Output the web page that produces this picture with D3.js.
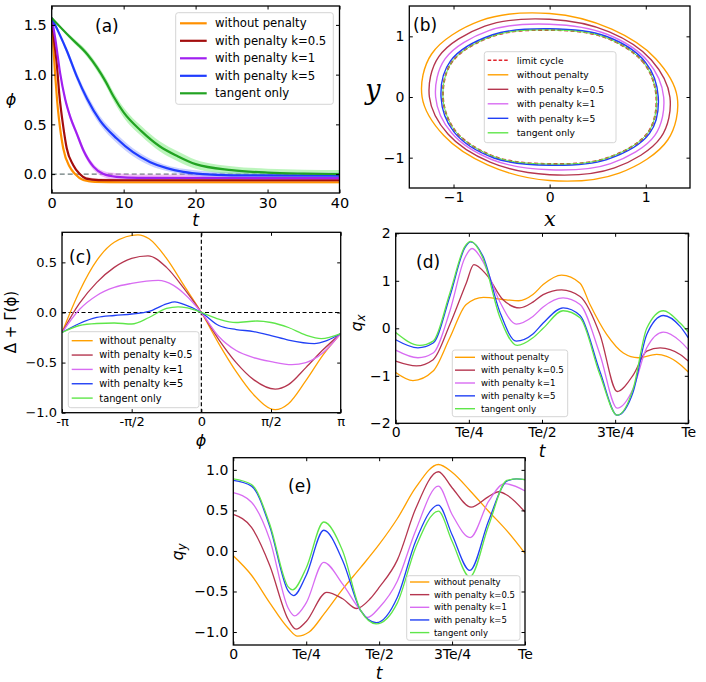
<!DOCTYPE html>
<html><head><meta charset="utf-8">
<script src="https://cdn.jsdelivr.net/npm/d3@7"></script>
<style>body{margin:0;background:#fff} text{font-family:"DejaVu Sans",sans-serif}</style>
</head><body><svg id="c" width="706" height="682"></svg>
<script>
// ---------------- DATA ----------------
const seriesLabels = ["without penalty","with penalty k=0.5","with penalty k=1","with penalty k=5","tangent only"];
const limitLabel = "limit cycle";

// (a) phase phi(t): [t, phi, errorHalfWidth]
const aOrange = [[0,1.57,0],[0.25,1.25,0.01],[0.5,0.98,0.01],[0.75,0.74,0.01],[1,0.56,0.01],[1.6,0.26,0.01],[2.5,0.074,0.01],[3.25,0,0.01],[4.4,-0.06,0.012],[6,-0.078,0.012],[10,-0.082,0.012],[40,-0.082,0.012]];
const aRed    = [[0,1.57,0],[0.35,1.33,0.01],[0.69,1.12,0.01],[1.06,0.80,0.01],[1.6,0.48,0.012],[2.09,0.26,0.012],[3.0,0.09,0.012],[3.9,0,0.012],[4.8,-0.045,0.015],[6.5,-0.06,0.015],[10,-0.062,0.015],[40,-0.062,0.015]];
const aPurple = [[0,1.57,0],[0.5,1.36,0.02],[1.16,1.02,0.03],[1.85,0.76,0.03],[2.6,0.57,0.03],[3.47,0.41,0.03],[4.4,0.24,0.03],[5.8,0.075,0.03],[7.2,0,0.03],[9,-0.027,0.035],[12,-0.038,0.035],[40,-0.04,0.035]];
const aBlue   = [[0,1.57,0],[1,1.42,0.02],[2.1,1.24,0.03],[3.5,0.98,0.04],[4.9,0.76,0.045],[6.7,0.54,0.045],[9,0.36,0.045],[11.3,0.22,0.04],[13.7,0.12,0.035],[16,0.06,0.03],[18.3,0.023,0.03],[21,0.0,0.03],[25,-0.012,0.03],[40,-0.015,0.03]];
const aGreen  = [[0,1.57,0],[2.5,1.38,0.02],[5,1.2,0.03],[7.5,0.93,0.04],[8.6,0.78,0.045],[10,0.62,0.05],[12.5,0.43,0.05],[15,0.28,0.05],[17.5,0.18,0.05],[20,0.10,0.045],[25,0.04,0.04],[30,0.015,0.04],[35,0.005,0.04],[40,0.0,0.04]];
const aXTicks = [0,10,20,30,40];
const aYTicks = [0,0.5,1,1.5];

// (b) closed trajectories in (x, y), read every 30 degrees around the origin
const bLimit  = [[1.11,0],[0.979,0.565],[0.57,0.987],[0,1.105],[-0.583,1.009],[-1.013,0.585],[-1.11,0],[-0.979,-0.565],[-0.57,-0.987],[0,-1.105],[0.585,-1.013],[1.022,-0.59]];
const bOrange = [[1.327,0],[1.101,0.636],[0.646,1.119],[0,1.377],[-0.724,1.254],[-1.228,0.709],[-1.327,0],[-1.101,-0.636],[-0.646,-1.119],[0,-1.377],[0.724,-1.254],[1.228,-0.709]];
const bRed    = [[1.251,0],[1.058,0.611],[0.62,1.073],[0,1.281],[-0.674,1.168],[-1.153,0.666],[-1.251,0],[-1.058,-0.611],[-0.62,-1.073],[0,-1.281],[0.675,-1.169],[1.156,-0.667]];
const bViolet = [[1.186,0],[1.021,0.59],[0.597,1.034],[0,1.2],[-0.632,1.095],[-1.088,0.628],[-1.186,0],[-1.021,-0.59],[-0.597,-1.034],[0,-1.2],[0.634,-1.097],[1.094,-0.632]];
const bBlue   = [[1.13,0],[0.996,0.575],[0.58,1.005],[0,1.125],[-0.593,1.026],[-1.031,0.595],[-1.13,0],[-0.996,-0.575],[-0.58,-1.005],[0,-1.125],[0.595,-1.031],[1.039,-0.6]];
const bGreen  = [[1.11,0],[0.979,0.565],[0.57,0.987],[0,1.105],[-0.583,1.009],[-1.013,0.585],[-1.11,0],[-0.979,-0.565],[-0.57,-0.987],[0,-1.105],[0.585,-1.013],[1.022,-0.59]];
const bTicks = [-1,0,1];

// (c) Delta + Gamma(phi); phi in units of pi
const cOrange = [[-1,-0.20],[-0.875,0.21],[-0.75,0.52],[-0.625,0.70],[-0.455,0.775],[-0.375,0.735],[-0.25,0.54],[-0.125,0.27],[0,0],[0.125,-0.31],[0.25,-0.59],[0.375,-0.82],[0.53,-0.97],[0.625,-0.91],[0.75,-0.68],[0.875,-0.42],[1,-0.21]];
const cRed    = [[-1,-0.20],[-0.875,0.09],[-0.75,0.30],[-0.625,0.45],[-0.5,0.54],[-0.383,0.565],[-0.25,0.45],[-0.125,0.24],[0,0],[0.125,-0.27],[0.25,-0.50],[0.375,-0.67],[0.53,-0.765],[0.625,-0.72],[0.75,-0.55],[0.875,-0.37],[1,-0.21]];
const cViolet = [[-1,-0.20],[-0.875,0.03],[-0.75,0.17],[-0.625,0.25],[-0.5,0.29],[-0.31,0.32],[-0.2,0.27],[-0.125,0.19],[0,0],[0.125,-0.24],[0.25,-0.38],[0.375,-0.45],[0.5,-0.49],[0.65,-0.52],[0.75,-0.50],[0.875,-0.40],[1,-0.21]];
const cBlue   = [[-1,-0.20],[-0.875,-0.11],[-0.75,-0.05],[-0.625,-0.03],[-0.5,-0.015],[-0.375,0.01],[-0.25,0.085],[-0.19,0.105],[-0.125,0.08],[0,0],[0.125,-0.13],[0.25,-0.17],[0.375,-0.19],[0.5,-0.23],[0.625,-0.275],[0.81,-0.31],[0.9,-0.28],[1,-0.21]];
const cGreen  = [[-1,-0.20],[-0.875,-0.13],[-0.75,-0.11],[-0.625,-0.105],[-0.5,-0.115],[-0.375,-0.05],[-0.25,0.04],[-0.167,0.056],[-0.1,0.045],[0,0],[0.125,-0.066],[0.25,-0.10],[0.4,-0.085],[0.5,-0.10],[0.625,-0.15],[0.75,-0.225],[0.86,-0.26],[1,-0.21]];
const cXTicks = [-1,-0.5,0,0.5,1];
const cXLabels = ["-π","-π/2","0","π/2","π"];
const cYTicks = [-1,-0.5,0,0.5];

// (d) q_x(t); t in units of Te
const dOrange = [[0,-0.93],[0.059,-1.10],[0.128,-0.90],[0.185,-0.20],[0.241,0.50],[0.30,0.65],[0.378,0.60],[0.42,0.58],[0.469,0.71],[0.504,0.92],[0.567,1.12],[0.63,0.95],[0.664,0.50],[0.721,-0.13],[0.778,-0.52],[0.829,-0.62],[0.892,-0.55],[0.926,-0.59],[0.972,-0.76],[1,-0.92]];
const dRed    = [[0,-0.69],[0.071,-0.79],[0.128,-0.66],[0.185,0.08],[0.241,0.95],[0.267,1.34],[0.31,1.13],[0.367,0.60],[0.424,0.43],[0.469,0.55],[0.504,0.71],[0.567,0.81],[0.63,0.67],[0.698,-0.13],[0.757,-1.33],[0.812,-0.98],[0.858,-0.48],[0.904,-0.41],[0.972,-0.55],[1,-0.69]];
const dViolet = [[0,-0.46],[0.076,-0.62],[0.128,-0.52],[0.185,0.36],[0.236,1.48],[0.261,1.68],[0.298,1.41],[0.355,0.57],[0.412,0.09],[0.469,0.25],[0.504,0.45],[0.572,0.64],[0.63,0.5],[0.698,-0.55],[0.757,-1.68],[0.812,-1.26],[0.858,-0.41],[0.915,-0.08],[0.972,-0.27],[1,-0.45]];
const dBlue   = [[0,-0.24],[0.076,-0.41],[0.128,-0.31],[0.185,0.67],[0.236,1.69],[0.256,1.82],[0.298,1.52],[0.355,0.36],[0.412,-0.27],[0.469,-0.12],[0.504,0.11],[0.572,0.43],[0.63,0.27],[0.698,-0.91],[0.757,-1.83],[0.812,-1.33],[0.858,-0.13],[0.915,0.27],[0.972,0.04],[1,-0.2]];
const dGreen  = [[0,-0.09],[0.082,-0.36],[0.128,-0.27],[0.185,0.74],[0.236,1.72],[0.256,1.83],[0.298,1.48],[0.355,0.25],[0.415,-0.36],[0.469,-0.20],[0.504,0.0],[0.572,0.37],[0.63,0.22],[0.698,-0.98],[0.757,-1.83],[0.812,-1.26],[0.858,0.0],[0.915,0.37],[0.972,0.11],[1,-0.08]];
const dYTicks = [-2,-1,0,1,2];

// (e) q_y(t)
const eOrange = [[0,-0.06],[0.0625,-0.30],[0.125,-0.64],[0.1875,-0.95],[0.22,-1.05],[0.26,-1.0],[0.3125,-0.77],[0.375,-0.47],[0.4375,-0.2],[0.5,0.08],[0.5625,0.40],[0.625,0.78],[0.703,1.066],[0.75,0.97],[0.8125,0.74],[0.875,0.49],[0.9375,0.25],[1,-0.03]];
const eRed    = [[0,0.45],[0.0625,0.29],[0.125,-0.18],[0.1875,-0.84],[0.215,-0.965],[0.25,-0.87],[0.32,-0.51],[0.375,-0.59],[0.423,-0.71],[0.469,-0.59],[0.5,-0.45],[0.5625,-0.11],[0.625,0.52],[0.703,0.977],[0.75,0.78],[0.815,0.54],[0.875,0.67],[0.91,0.73],[0.9375,0.69],[1,0.48]];
const eViolet = [[0,0.72],[0.0625,0.60],[0.125,0.14],[0.1875,-0.70],[0.21,-0.80],[0.25,-0.64],[0.31,-0.14],[0.375,-0.41],[0.4375,-0.74],[0.46,-0.82],[0.5,-0.70],[0.5625,-0.37],[0.625,0.25],[0.703,0.80],[0.75,0.45],[0.812,0.165],[0.875,0.61],[0.93,0.83],[1,0.74]];
const eBlue   = [[0,0.87],[0.0625,0.80],[0.125,0.30],[0.1875,-0.49],[0.207,-0.55],[0.25,-0.30],[0.31,0.255],[0.375,-0.12],[0.4375,-0.74],[0.49,-0.885],[0.5625,-0.57],[0.625,0.12],[0.703,0.566],[0.75,0.20],[0.811,-0.24],[0.875,0.37],[0.9375,0.86],[0.97,0.89],[1,0.88]];
const eGreen  = [[0,0.89],[0.0625,0.82],[0.125,0.33],[0.1875,-0.44],[0.203,-0.48],[0.25,-0.21],[0.31,0.357],[0.375,0.0],[0.4375,-0.74],[0.49,-0.90],[0.5625,-0.64],[0.625,0.04],[0.703,0.49],[0.75,0.12],[0.811,-0.32],[0.875,0.31],[0.9375,0.87],[0.975,0.89],[1,0.88]];
const eYTicks = [-1,-0.5,0,0.5,1];
const tTicks = [0,0.25,0.5,0.75,1];
const tLabels = ["0","Te/4","Te/2","3Te/4","Te"];

// ---------------- STYLE ----------------
const colA = ["#ff9000","#a30d0d","#a020f0","#1f3cff","#22a322"];
const bandA = ["#ffc266","#d86a6a","#e070f0","#8898ff","#6be86b"];
const colB = ["#ffa000","#b5364f","#d86cf2","#2140f5","#5fe64a"];

const svg = d3.select("#c");
svg.append("rect").attr("width",706).attr("height",682).attr("fill","#fff");

function panel(o){
  const x = d3.scaleLinear().domain(o.xd).range([o.l,o.r]);
  const y = d3.scaleLinear().domain(o.yd).range([o.b,o.t]);
  const id = "clip_"+o.name;
  svg.append("clipPath").attr("id",id).append("rect")
     .attr("x",o.l).attr("y",o.t).attr("width",o.r-o.l).attr("height",o.b-o.t);
  const g = svg.append("g");
  const plot = g.append("g").attr("clip-path",`url(#${id})`);
  const tl = 3.5;
  const fmtX = (d,i)=> o.xl ? o.xl[i] : o.xf(d);
  const fmtY = (d,i)=> o.yf(d);
  const style = s => { s.attr("font-size",null).attr("font-family",null);
      s.select(".domain").remove();
      s.selectAll(".tick line").attr("stroke","#000").attr("stroke-width",1);
      s.selectAll("text").style("font-size",o.fs+"px").style("font-family","DejaVu Sans"); };
  g.append("g").attr("transform",`translate(0,${o.b})`)
    .call(d3.axisBottom(x).tickValues(o.xt).tickSizeInner(-tl).tickSizeOuter(0).tickPadding(o.xpad).tickFormat(fmtX)).call(style);
  g.append("g").attr("transform",`translate(0,${o.t})`)
    .call(d3.axisTop(x).tickValues(o.xt).tickSizeInner(-tl).tickSizeOuter(0).tickFormat("")).call(style);
  g.append("g").attr("transform",`translate(${o.l},0)`)
    .call(d3.axisLeft(y).tickValues(o.yt).tickSizeInner(-tl).tickSizeOuter(0).tickPadding(o.ypad).tickFormat(fmtY)).call(style);
  g.append("g").attr("transform",`translate(${o.r},0)`)
    .call(d3.axisRight(y).tickValues(o.yt).tickSizeInner(-tl).tickSizeOuter(0).tickFormat("")).call(style);
  const frame = () => g.append("rect").attr("x",o.l).attr("y",o.t).attr("width",o.r-o.l).attr("height",o.b-o.t)
      .attr("fill","none").attr("stroke","#000").attr("stroke-width",1.3);
  return {x,y,plot,g,frame};
}

function legend(o){
  const g = svg.append("g");
  g.append("rect").attr("x",o.x0).attr("y",o.y0).attr("width",o.x1-o.x0).attr("height",o.y1-o.y0)
   .attr("rx",2.5).attr("fill","#fff").attr("fill-opacity",0.85).attr("stroke","#d0d0d0").attr("stroke-width",0.9);
  o.items.forEach((it,i)=>{
    const yy = o.ry + i*o.dy;
    g.append("line").attr("x1",o.lx0).attr("x2",o.lx1).attr("y1",yy).attr("y2",yy)
     .attr("stroke",it.color).attr("stroke-width",it.w).attr("stroke-dasharray",it.dash||null);
    g.append("text").attr("x",o.tx).attr("y",yy).attr("dy","0.35em").style("font-size",o.fs+"px").text(it.label);
  });
}

function label(x,y,txt,opt){
  const t = svg.append("text").attr("x",x).attr("y",y).attr("text-anchor","middle")
     .style("font-size",opt.fs+"px").style("font-family",opt.ff||"DejaVu Sans")
     .style("font-style",opt.it?"italic":"normal");
  if(opt.rot) t.attr("transform",`rotate(-90,${x},${y})`);
  if(opt.sub){ t.append("tspan").text(txt); t.append("tspan").attr("dy","0.25em").style("font-size",(opt.fs*0.72)+"px").text(opt.sub); }
  else t.text(txt);
  return t;
}
function panelTag(x,y,txt){ svg.append("text").attr("x",x).attr("y",y).style("font-size","17px").text(txt); }

const f1 = d3.format(".1f"), f0 = d3.format("d");

// ---------------- (a) ----------------
{
  const P = panel({name:"a",l:51.7,r:339.5,t:6,b:193,xd:[0,40],yd:[-0.19,1.69],xt:aXTicks,yt:aYTicks,xf:f0,yf:f1,fs:14.5,xpad:4.5,ypad:5});
  const series = [aOrange,aRed,aPurple,aBlue,aGreen];
  P.plot.append("line").attr("x1",P.x(0)).attr("x2",P.x(40)).attr("y1",P.y(0)).attr("y2",P.y(0))
    .attr("stroke","#6a7a7a").attr("stroke-width",1.2).attr("stroke-dasharray","5,3");
  const area = d3.area().x(d=>P.x(d[0])).y0(d=>P.y(d[1]-d[2])).y1(d=>P.y(d[1]+d[2])).curve(d3.curveMonotoneX);
  const line = d3.line().x(d=>P.x(d[0])).y(d=>P.y(d[1])).curve(d3.curveMonotoneX);
  series.forEach((s,i)=>P.plot.append("path").attr("d",area(s)).attr("fill",bandA[i]).attr("fill-opacity",0.45));
  series.forEach((s,i)=>P.plot.append("path").attr("d",line(s)).attr("fill","none").attr("stroke",colA[i]).attr("stroke-width",2.2));
  P.frame();
  legend({x0:175.7,x1:333.3,y0:12.7,y1:104.3,ry:23.3,dy:17.5,lx0:180,lx1:206.7,tx:215,fs:11.7,
    items:seriesLabels.map((l,i)=>({label:l,color:colA[i],w:2.2}))});
  panelTag(95,32,"(a)");
  label(11,105,"ϕ",{fs:16,it:true});
  label(195.6,226,"t",{fs:17,it:true});
}

// ---------------- (b) ----------------
{
  const P = panel({name:"b",l:409.3,r:690,t:6,b:188,xd:[-1.46,1.46],yd:[-1.5,1.5],xt:bTicks,yt:bTicks,xf:f0,yf:f0,fs:14,xpad:4.5,ypad:5});
  const loop = d3.line().x(d=>P.x(d[0])).y(d=>P.y(d[1])).curve(d3.curveCatmullRomClosed.alpha(0.5));
  P.plot.append("path").attr("d",loop(bLimit)).attr("fill","none").attr("stroke","#e0242c").attr("stroke-width",2).attr("stroke-dasharray","4,2.5");
  [bOrange,bRed,bViolet,bBlue,bGreen].forEach((s,i)=>P.plot.append("path").attr("d",loop(s)).attr("fill","none")
      .attr("stroke",colB[i]).attr("stroke-width",i===4?1:1.4));
  P.frame();
  legend({x0:484.3,x1:616,y0:51.7,y1:142.7,ry:60.3,dy:14.5,lx0:487.7,lx1:508.3,tx:516.7,fs:9.2,
    items:[{label:limitLabel,color:"#e0242c",w:1.4,dash:"3.5,2"}].concat(seriesLabels.map((l,i)=>({label:l,color:colB[i],w:1.4})))});
  panelTag(413,31,"(b)");
  label(373,99,"y",{fs:27,it:true,ff:"DejaVu Serif"});
  label(550,226,"x",{fs:21,it:true,ff:"DejaVu Serif"});
}

// ---------------- (c) ----------------
{
  const P = panel({name:"c",l:62,r:340.7,t:232.3,b:412.7,xd:[-1,1],yd:[-1.0,0.8],xt:cXTicks,yt:cYTicks,xl:cXLabels,yf:f1,fs:13,xpad:4,ypad:5});
  P.plot.append("line").attr("x1",P.x(-1)).attr("x2",P.x(1)).attr("y1",P.y(0)).attr("y2",P.y(0)).attr("stroke","#000").attr("stroke-width",1.2).attr("stroke-dasharray","4,2.5");
  P.plot.append("line").attr("x1",P.x(0)).attr("x2",P.x(0)).attr("y1",P.y(-1)).attr("y2",P.y(0.8)).attr("stroke","#000").attr("stroke-width",1.2).attr("stroke-dasharray","4,2.5");
  const line = d3.line().x(d=>P.x(d[0])).y(d=>P.y(d[1])).curve(d3.curveMonotoneX);
  [cOrange,cRed,cViolet,cBlue,cGreen].forEach((s,i)=>P.plot.append("path").attr("d",line(s)).attr("fill","none").attr("stroke",colB[i]).attr("stroke-width",1.3));
  P.frame();
  legend({x0:68.3,x1:199,y0:331.7,y1:407.7,ry:340.7,dy:14.35,lx0:71.7,lx1:92.7,tx:99.3,fs:9.8,
    items:seriesLabels.map((l,i)=>({label:l,color:colB[i],w:1.4}))});
  panelTag(69,263,"(c)");
  label(16,322,"Δ + Γ(ϕ)",{fs:15,rot:true});
  label(201,446,"ϕ",{fs:16,it:true});
}

// ---------------- (d) ----------------
{
  const P = panel({name:"d",l:395.7,r:688.3,t:233.3,b:423.3,xd:[0,1],yd:[-2,2],xt:tTicks,yt:dYTicks,xl:tLabels,yf:f0,fs:14,xpad:4,ypad:5});
  const line = d3.line().x(d=>P.x(d[0])).y(d=>P.y(d[1])).curve(d3.curveMonotoneX);
  [dOrange,dRed,dViolet,dBlue,dGreen].forEach((s,i)=>P.plot.append("path").attr("d",line(s)).attr("fill","none").attr("stroke",colB[i]).attr("stroke-width",1.3));
  P.frame();
  legend({x0:452.3,x1:567.7,y0:350,y1:416.7,ry:357.3,dy:12.85,lx0:455,lx1:475,tx:481,fs:8.7,
    items:seriesLabels.map((l,i)=>({label:l,color:colB[i],w:1.4}))});
  panelTag(416,268,"(d)");
  label(362,323,"q",{fs:16,rot:true,it:true,sub:"x"});
  label(542,457,"t",{fs:17,it:true});
}

// ---------------- (e) ----------------
{
  const P = panel({name:"e",l:233.3,r:525,t:457.7,b:645,xd:[0,1],yd:[-1.16,1.15],xt:tTicks,yt:eYTicks,xl:tLabels,yf:f1,fs:14,xpad:4,ypad:5});
  const line = d3.line().x(d=>P.x(d[0])).y(d=>P.y(d[1])).curve(d3.curveMonotoneX);
  [eOrange,eRed,eViolet,eBlue,eGreen].forEach((s,i)=>P.plot.append("path").attr("d",line(s)).attr("fill","none").attr("stroke",colB[i]).attr("stroke-width",1.3));
  P.frame();
  legend({x0:406.7,x1:520,y0:575.7,y1:640.3,ry:582,dy:12.65,lx0:410,lx1:429.3,tx:434,fs:8.5,
    items:seriesLabels.map((l,i)=>({label:l,color:colB[i],w:1.4}))});
  panelTag(288,492,"(e)");
  label(183,552,"q",{fs:16,rot:true,it:true,sub:"y"});
  label(379,679,"t",{fs:17,it:true});
}
</script></body></html>
